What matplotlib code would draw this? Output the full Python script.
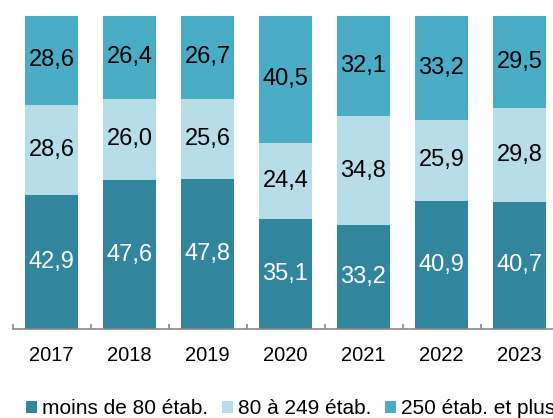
import matplotlib
matplotlib.use("Agg")
import matplotlib.pyplot as plt
import numpy as np

plt.rcParams['font.family'] = ['Liberation Sans', 'DejaVu Sans']

years = ["2017", "2018", "2019", "2020", "2021", "2022", "2023"]
series_names = ["moins de 80 étab.", "80 à 249 étab.", "250 étab. et plus"]
moins_80 = [42.9, 47.6, 47.8, 35.1, 33.2, 40.9, 40.7]
de_80_249 = [28.6, 26.0, 25.6, 24.4, 34.8, 25.9, 29.8]
plus_250 = [28.6, 26.4, 26.7, 40.5, 32.1, 33.2, 29.5]
colors = ["#31859C", "#B7DEE8", "#4BACC6"]
label_colors = ["white", "black", "black"]

W, H = 553, 418
fig = plt.figure(figsize=(W / 100, H / 100), dpi=100)
ax = fig.add_axes([12.5 / W, (H - 329) / H, 546 / W, (329 - 16) / H])

x = np.arange(len(years))
bottom = np.zeros(len(years))
handles = []
for vals, col, lc, name in zip([moins_80, de_80_249, plus_250], colors, label_colors, series_names):
    vals = np.array(vals)
    bars = ax.bar(x, vals, width=0.667, bottom=bottom, color=col, label=name,
                  clip_on=False, linewidth=0)
    handles.append(bars)
    for xi, b, v in zip(x, bottom, vals):
        ax.text(xi, b + v / 2, f"{v:.1f}".replace(".", ","), ha="center", va="center",
                color=lc, fontsize=17)
    bottom = bottom + vals

ax.set_xlim(-0.5, len(years) - 0.5)
ax.set_ylim(0, 100)
for s in ["left", "right", "top"]:
    ax.spines[s].set_visible(False)
ax.spines["bottom"].set_color("#898989")
ax.spines["bottom"].set_linewidth(1.2)
ax.set_yticks([])
ax.set_xticks(x)
ax.set_xticklabels(years, fontsize=14.5)
ax.tick_params(axis="x", which="major", length=0, pad=12.5)
ax.set_xticks(np.arange(-0.5, len(years) + 0.5, 1), minor=True)
ax.tick_params(axis="x", which="minor", direction="in", length=3.8, width=1.2, color="#898989")

fig.legend(handles=handles, labels=series_names, loc="center left",
           bbox_to_anchor=(26 / W, 1 - 409 / H), ncol=3, frameon=False,
           fontsize=15, handlelength=0.52, handleheight=0.52, handletextpad=0.24,
           columnspacing=0.67, borderpad=0, borderaxespad=0)

fig.savefig("out.png", dpi=100)
